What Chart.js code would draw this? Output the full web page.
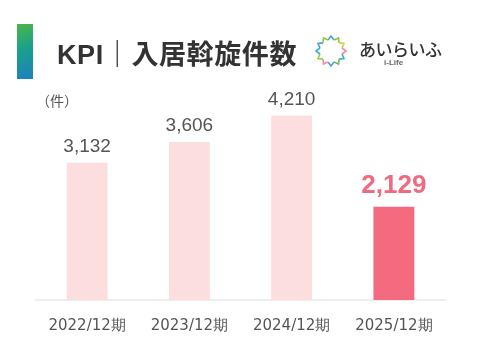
<!DOCTYPE html>
<html><head><meta charset="utf-8">
<script src="https://cdn.jsdelivr.net/npm/chart.js@4"></script>
<style>
html,body{margin:0;padding:0;background:#fff;}
#wrap{position:relative;width:491px;height:363px;overflow:hidden;}
#c{position:absolute;left:0;top:0;}
.abs{position:absolute;white-space:nowrap;}
#gbar{left:17px;top:24px;width:16px;height:55px;background:linear-gradient(160deg,#4cb648 0%,#1aa08a 45%,#1f7fc0 100%);}
#title{left:57px;top:33px;font:bold 27px "Liberation Sans","Noto Sans CJK JP",sans-serif;color:#333;letter-spacing:0.6px;}
#logo{left:359px;top:36px;font:500 17px "Noto Sans CJK JP",sans-serif;color:#333;letter-spacing:-0.5px;}
#ilife{left:384px;top:58px;font:bold 8px "Liberation Sans",sans-serif;color:#666;}
#unit{left:36px;top:90px;font:14px "Noto Sans CJK JP",sans-serif;color:#555;}
</style></head>
<body><div id="wrap">
<canvas id="c" width="491" height="363"></canvas>
<div class="abs" id="gbar"></div>
<div class="abs" id="title">KPI｜入居斡旋件数</div>
<svg class="abs" style="left:313px;top:33px" width="36" height="36" viewBox="-18 -18 36 36" id="icon"></svg>
<div class="abs" id="logo">あいらいふ</div>
<div class="abs" id="ilife">i-Life</div>
<div class="abs" id="unit">（件）</div>
</div>
<script>
const categories = ["2022/12期", "2023/12期", "2024/12期", "2025/12期"];
const values = [3132, 3606, 4210, 2129];
const valueLabels = ["3,132", "3,606", "4,210", "2,129"];
const highlightIndex = 3;

// logo icon
(function(){
  const svg = document.getElementById('icon');
  const cols = ['#4aa0dc','#8cc63f','#c9d64a','#f08ca0','#3fb1c9','#6bbf59','#4aa0dc','#f08ca0','#9ccc4a','#3fb1c9','#4aa0dc','#8cc63f'];
  let s='';
  for(let i=0;i<12;i++){
    const a=i*30;
    s+=`<g transform="rotate(${a}) translate(0,-13)"><path d="M-3,2 L0,-2 L3,2" fill="none" stroke="${cols[i]}" stroke-width="1.6"/></g>`;
  }
  svg.innerHTML=s;
})();

const labelPlugin = {
  id: 'vlabels',
  afterDatasetsDraw(chart){
    const ctx = chart.ctx;
    const meta = chart.getDatasetMeta(0);
    ctx.save();
    ctx.textAlign = 'center';
    ctx.textBaseline = 'alphabetic';
    meta.data.forEach((bar, i) => {
      if (i === highlightIndex) {
        ctx.font = 'bold 26px "Liberation Sans", Arial, sans-serif';
        ctx.fillStyle = '#f06b80';
        ctx.fillText(valueLabels[i], bar.x, bar.y - 14);
      } else {
        ctx.font = '19px "Liberation Sans", Arial, sans-serif';
        ctx.fillStyle = '#555';
        ctx.fillText(valueLabels[i], bar.x, bar.y - 11);
      }
    });
    ctx.restore();
  }
};

new Chart(document.getElementById('c'), {
  type: 'bar',
  data: {
    labels: categories,
    datasets: [{
      data: values,
      backgroundColor: values.map((v,i)=> i===highlightIndex ? '#f46a7e' : '#fddede'),
      categoryPercentage: 0.4,
      barPercentage: 1.0
    }]
  },
  options: {
    responsive: false,
    animation: false,
    devicePixelRatio: 1,
    layout: { padding: { left: 36, right: 46, top: 81, bottom: 0 } },
    plugins: { legend: { display: false }, tooltip: { enabled: false } },
    scales: {
      x: {
        grid: { display: false, drawTicks: false },
        border: { display: true, color: '#eeeeee', width: 2 },
        ticks: { padding: 17, color: '#555', font: { family: '"DejaVu Sans", sans-serif', size: 15 } },
        afterFit(scale){ scale.height = 63; }
      },
      y: {
        display: false,
        min: 0,
        max: 5000
      }
    }
  },
  plugins: [labelPlugin]
});
</script>
</body></html>
